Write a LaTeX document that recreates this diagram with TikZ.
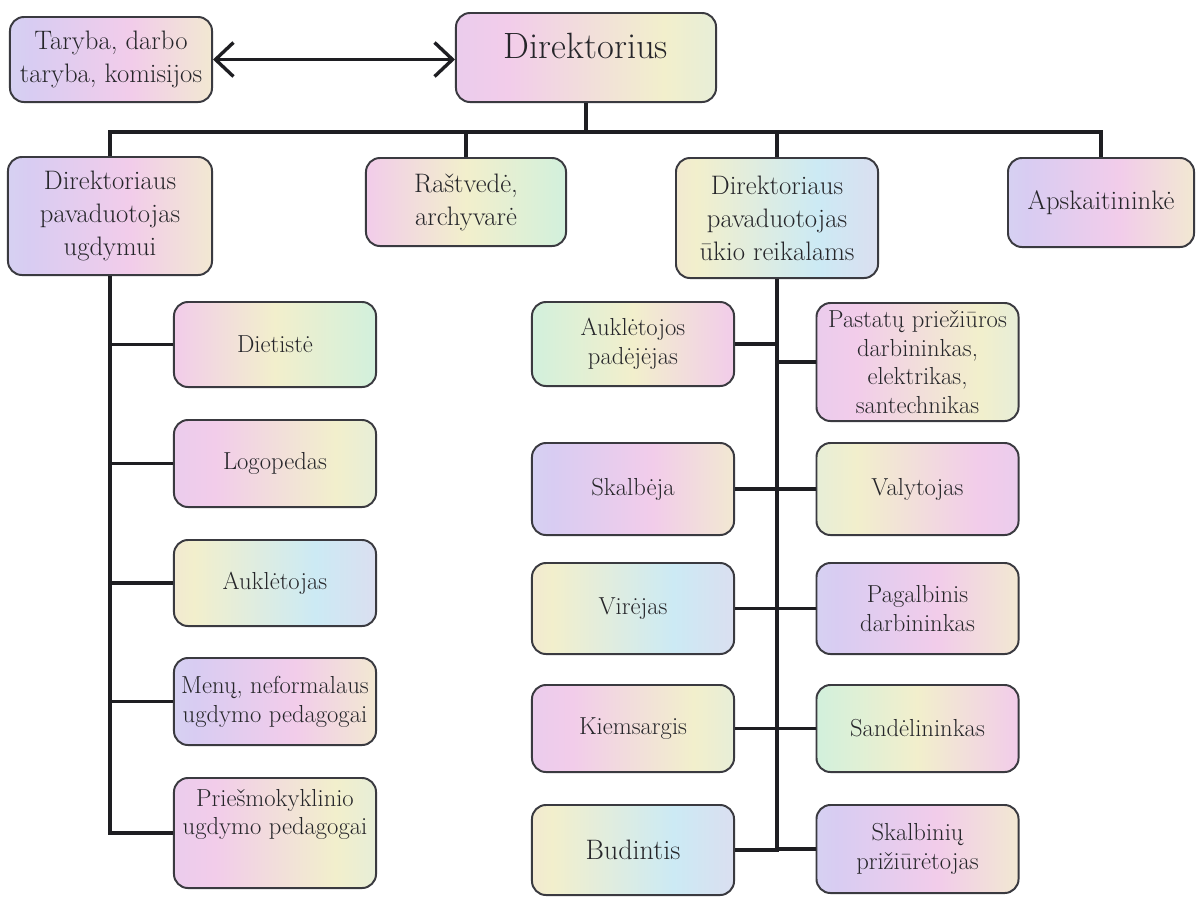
\documentclass[tikz,border=0pt]{standalone}
\usetikzlibrary{arrows.meta,positioning,calc}
\definecolor{ink}{HTML}{26262A}
\definecolor{wire}{HTML}{1E1E22}
\definecolor{boxline}{HTML}{3A3A40}
\definecolor{pLilac}{HTML}{D8CCF2}
\definecolor{pPink}{HTML}{F2CCEA}
\definecolor{pYellow}{HTML}{F2EFCC}
\definecolor{pCyan}{HTML}{CCEAF4}
\definecolor{pMint}{HTML}{D2F0DC}
\definecolor{pBlue}{HTML}{D2D9F4}
\pgfdeclarehorizontalshading{pastelA}{100bp}{color(0bp)=(pLilac); color(35bp)=(pPink); color(65bp)=(pYellow); color(100bp)=(pCyan)}
\pgfdeclarehorizontalshading{pastelB}{100bp}{color(0bp)=(pCyan); color(30bp)=(pLilac); color(55bp)=(pPink); color(80bp)=(pYellow); color(100bp)=(pBlue)}
\pgfdeclarehorizontalshading{pastelC}{100bp}{color(0bp)=(pBlue); color(25bp)=(pMint); color(50bp)=(pYellow); color(75bp)=(pPink); color(100bp)=(pLilac)}
\pgfdeclarehorizontalshading{pastelD}{100bp}{color(0bp)=(pPink); color(30bp)=(pYellow); color(60bp)=(pCyan); color(100bp)=(pPink)}

\begin{document}
\begin{tikzpicture}[x=0.025cm, y=-0.025cm,
        box/.style={draw=boxline, line width=1.4pt, rounded corners=0.35cm, align=center, text=ink,
            inner sep=3pt, font=\fontsize{17.5}{20.5}\selectfont, minimum width=5.05cm, shade, shading=pastelB},
        big/.style={font=\fontsize{19}{23.5}\selectfont},
        conn/.style={draw=wire, line width=2.2pt},
        both/.style={draw=wire, line width=2.4pt,
            {Straight Barb[length=0.45cm,width=0.85cm]}-{Straight Barb[length=0.45cm,width=0.85cm]}}]
    \useasboundingbox (0,0) rectangle (1200,896);

    \node[box, big, minimum height=2.125cm] (taryba) at (111,59.5) {Taryba, darbo\\taryba, komisijos};
    \node[box, shading=pastelA, minimum width=6.5cm, minimum height=2.225cm, text depth=0.6cm,
        font=\fontsize{26}{30}\selectfont] (dir) at (586,57.5) {Direktorius};

    \node[box, big, minimum width=5.1cm, minimum height=2.95cm] (ugd) at (110,216) {Direktoriaus\\pavaduotojas\\ugdymui};
    \node[box, big, shading=pastelC, shading angle=180, minimum width=5cm, minimum height=2.2cm] (rast) at (466,202) {Raštvedė,\\archyvarė};
    \node[box, big, shading=pastelD, minimum height=3cm] (ukio) at (777,218) {Direktoriaus\\pavaduotojas\\ūkio reikalams};
    \node[box, big, minimum width=4.65cm, minimum height=2.225cm] (apsk) at (1101,202.5) {Apskaitininkė};

    \node[box, shading=pastelC, shading angle=180, minimum height=2.125cm] (dietiste) at (275,344.5) {Dietistė};
    \node[box, shading=pastelA, minimum height=2.175cm] (logoped) at (275,463.5) {Logopedas};
    \node[box, shading=pastelD, minimum height=2.15cm] (aukletoj) at (275,583) {Auklėtojas};
    \node[box, shading=pastelB, minimum height=2.175cm] (menu) at (275,701.5) {Menų, neformalaus\\ugdymo pedagogai};
    \node[box, shading=pastelA, minimum height=2.75cm, text depth=1.05cm] (priesm) at (275,833) {Priešmokyklinio\\ugdymo pedagogai};

    \node[box, shading=pastelC, minimum height=2.1cm] (auklpad) at (633,344) {Auklėtojos\\padėjėjas};
    \node[box, shading=pastelA, minimum height=2.95cm] (pastatu) at (917.5,362) {Pastatų priežiūros\\darbininkas,\\elektrikas,\\santechnikas};
    \node[box, shading=pastelB, minimum height=2.3cm] (skalbeja) at (633,489) {Skalbėja};
    \node[box, shading=pastelA, shading angle=180, minimum height=2.3cm] (valyt) at (917.5,489) {Valytojas};
    \node[box, shading=pastelD, minimum height=2.275cm] (virejas) at (633,608.5) {Virėjas};
    \node[box, shading=pastelB, minimum height=2.275cm] (pagalb) at (917.5,608.5) {Pagalbinis\\darbininkas};
    \node[box, shading=pastelA, minimum height=2.175cm] (kiems) at (633,728.5) {Kiemsargis};
    \node[box, shading=pastelC, minimum height=2.175cm] (sandel) at (917.5,728.5) {Sandėlininkas};
    \node[box, shading=pastelD, minimum height=2.25cm, font=\fontsize{20}{24}\selectfont] (budint) at (633,850) {Budintis};
    \node[box, shading=pastelB, minimum height=2.2cm] (skalbin) at (917.5,849) {Skalbinių\\prižiūrėtojas};

    \coordinate (bus) at (0,132);
    \draw[both] (taryba.east) -- (taryba.east -| dir.west);
    \draw[conn] (dir.south) -- (dir.south |- bus);
    \draw[conn] (ugd.north) |- (apsk.north |- bus) -- (apsk.north);
    \draw[conn] (rast.north) -- (rast.north |- bus);
    \draw[conn] (ukio.north) -- (ukio.north |- bus);

    \draw[conn] (ugd.south) |- (priesm.west);
    \draw[conn] (dietiste.west) -- (dietiste.west -| ugd.south);
    \draw[conn] (logoped.west) -- (logoped.west -| ugd.south);
    \draw[conn] (aukletoj.west) -- (aukletoj.west -| ugd.south);
    \draw[conn] (menu.west) -- (menu.west -| ugd.south);

    \draw[conn] (ukio.south) |- (budint.east);
    \draw[conn] (auklpad.east) -- (auklpad.east -| ukio.south);
    \draw[conn] (pastatu.west) -- (pastatu.west -| ukio.south);
    \draw[conn] (skalbeja.east) -- (valyt.west);
    \draw[conn] (virejas.east) -- (pagalb.west);
    \draw[conn] (kiems.east) -- (sandel.west);
    \draw[conn] (skalbin.west) -- (skalbin.west -| ukio.south);
\end{tikzpicture}
\end{document}
